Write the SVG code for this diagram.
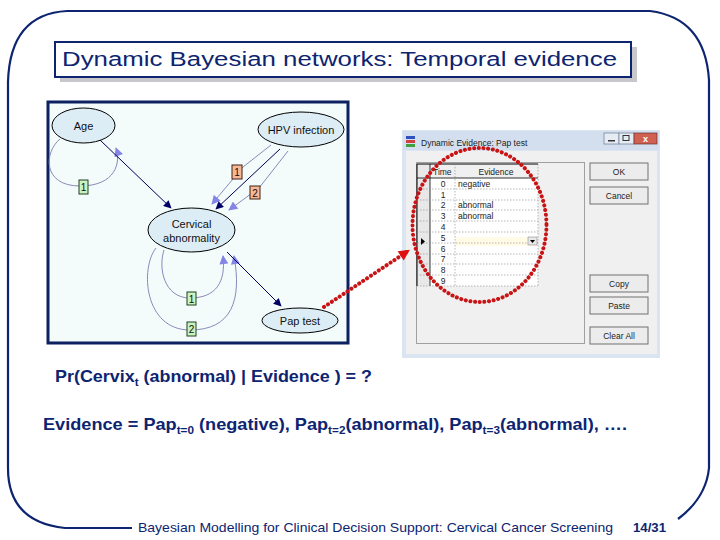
<svg xmlns="http://www.w3.org/2000/svg" width="720" height="540" viewBox="0 0 720 540">
<style>
.frame{fill:none;stroke:#0d2470;stroke-width:2.2}
.slide{font-family:"Liberation Sans",Arial,sans-serif;fill:#0d2470}
.node ellipse{fill:#ddedf5;stroke:#000;stroke-width:1}
.nlabel{font-family:"Liberation Sans",Arial,sans-serif;font-size:11px;fill:#111;text-anchor:middle}
.arc{fill:none;stroke:#000055;stroke-width:1}
.loop{fill:none;stroke:#8a8ab8;stroke-width:1}
.tg{fill:#c9f3c0;stroke:#204020;stroke-width:1}
.to{fill:#f7b898;stroke:#402010;stroke-width:1}
.tl{font-family:"Liberation Sans",Arial,sans-serif;font-size:10px;fill:#111;text-anchor:middle}
.dlg{font-family:"Liberation Sans",Arial,sans-serif;font-size:8.5px;fill:#222}
.btn{fill:#ececec;stroke:#707070;stroke-width:1}
.grid{stroke:#888;stroke-width:0.6;stroke-dasharray:1.5,1.5}
.reddot{fill:none;stroke:#c81414;stroke-width:4;stroke-linecap:round;stroke-dasharray:0.1,4.6}
</style>
<defs>
<marker id="ad" viewBox="0 0 10 10" refX="9" refY="5" markerWidth="10" markerHeight="8" markerUnits="userSpaceOnUse" orient="auto"><path d="M0,0 L10,5 L0,10 z" fill="#000066"/></marker>
<marker id="al" viewBox="0 0 10 10" refX="9" refY="5" markerWidth="10" markerHeight="9" markerUnits="userSpaceOnUse" orient="auto"><path d="M0,0 L10,5 L0,10 z" fill="#8484e6"/></marker>
<marker id="ar" viewBox="0 0 10 10" refX="8" refY="5" markerWidth="12" markerHeight="11" markerUnits="userSpaceOnUse" orient="auto"><path d="M0,0 L10,5 L0,10 z" fill="#dd1111"/></marker>
</defs>
<rect width="720" height="540" fill="#fff"/>
<!-- slide frame -->
<path class="frame" d="M132,528 L65,528 Q8,522 8,468 L8,82 Q10,14 67,11 L650,11 Q705,18 709,80 L709,468 Q706,498 678,519"/>
<!-- title -->
<g id="title">
<rect x="60" y="47" width="577" height="35" fill="#c8c8cc"/>
<rect x="55" y="42" width="576" height="35" fill="#fff" stroke="#0d2470" stroke-width="2"/>
<text class="slide" x="62" y="66" font-size="20" textLength="555" lengthAdjust="spacingAndGlyphs">Dynamic Bayesian networks: Temporal evidence</text>
</g>
<!-- network panel -->
<g id="panel">
<rect x="48" y="102" width="300" height="241" fill="#f3fbfb" stroke="#0d2060" stroke-width="3"/>
</g>
<g id="connectors">
<path class="loop" d="M60,139 C44,152 42,186 80,186 C116,186 121,162 116,148" marker-end="url(#al)"/>
<path class="loop" d="M271,145 L243,167 L212,204" marker-end="url(#al)"/>
<path class="loop" d="M288,151 L259,188 L229,210" marker-end="url(#al)"/>
<path class="loop" d="M164,250 C158,268 164,298 190,298 C216,298 226,282 223,256" marker-end="url(#al)"/>
<path class="loop" d="M156,248 C140,268 144,330 190,330 C232,330 242,300 234,256" marker-end="url(#al)"/>
<path class="arc" d="M100,140 L171,208" marker-end="url(#ad)"/>
<path class="arc" d="M280,149 L216,209" marker-end="url(#ad)"/>
<path class="arc" d="M227,252 L281,306" marker-end="url(#ad)"/>
</g>
<g id="lab1"><rect class="tg" x="79" y="180" width="9" height="14"/><text class="tl" x="83.5" y="191">1</text></g>
<g id="lab2"><rect class="to" x="232" y="165" width="10" height="14"/><text class="tl" x="237" y="176">1</text></g>
<g id="lab3"><rect class="to" x="250" y="186" width="10" height="13"/><text class="tl" x="255" y="196.5">2</text></g>
<g id="lab4"><rect class="tg" x="187" y="292" width="9" height="13"/><text class="tl" x="191.5" y="302.5">1</text></g>
<g id="lab5"><rect class="tg" x="187" y="322" width="9" height="14"/><text class="tl" x="191.5" y="333">2</text></g>
<g id="age" class="node"><ellipse cx="83.5" cy="125.5" rx="31.5" ry="17.5"/><text class="nlabel" x="83.5" y="129.5">Age</text></g>
<g id="hpv" class="node"><ellipse cx="301" cy="129.5" rx="43" ry="17.5"/><text class="nlabel" x="301" y="133.5">HPV infection</text></g>
<g id="cervical" class="node"><ellipse cx="191.5" cy="230" rx="43.5" ry="22"/><text class="nlabel" x="191.5" y="228">Cervical</text><text class="nlabel" x="191.5" y="242">abnormality</text></g>
<g id="pap" class="node"><ellipse cx="300" cy="320.5" rx="38" ry="12.5"/><text class="nlabel" x="300" y="324.5">Pap test</text></g>
<!-- dialog screenshot -->
<g id="dialog">
<rect x="402" y="130" width="258" height="228" fill="#dbe5f1"/>
<rect x="403" y="131" width="256" height="19" fill="#d3dfee"/>
<rect x="406" y="136" width="9" height="3" fill="#3050c0"/><rect x="406" y="140" width="9" height="3" fill="#d04040"/><rect x="406" y="144" width="9" height="3" fill="#40a040"/>
<text class="dlg" x="421" y="145.5" font-size="9">Dynamic Evidence: Pap test</text>
<rect x="604" y="133" width="15" height="11" fill="#e6ecf4" stroke="#6a7a90" stroke-width="0.7"/><rect x="608" y="140" width="7" height="1.5" fill="#333"/>
<rect x="619" y="133" width="15" height="11" fill="#e6ecf4" stroke="#6a7a90" stroke-width="0.7"/><rect x="623" y="135.5" width="6" height="5" fill="none" stroke="#333" stroke-width="1"/>
<rect x="634" y="133" width="23" height="11" fill="#d06050" stroke="#6a3030" stroke-width="0.7"/><text x="645.5" y="142" font-family="Liberation Sans,sans-serif" font-size="9" font-weight="bold" fill="#fff" text-anchor="middle">x</text>
<rect x="406" y="151" width="251" height="203" fill="#f0f0f0"/>
<rect x="416.5" y="162.5" width="168" height="181" fill="none" stroke="#a0a0a0" stroke-width="1"/>
<rect x="417" y="164" width="13" height="122" fill="#e8e8e8"/>
<rect x="430" y="164" width="108" height="122" fill="#fff"/>
<rect x="430" y="164" width="108" height="14" fill="#f0f0f0"/>
<rect x="455" y="237" width="82" height="9" fill="#fffbe6"/>
<line x1="417" y1="164" x2="538" y2="164" stroke="#000" stroke-width="1"/>
<line x1="417" y1="164" x2="417" y2="286" stroke="#000" stroke-width="1"/>
<line x1="430" y1="164" x2="430" y2="286" stroke="#000" stroke-width="0.8"/>
<line x1="455" y1="164" x2="455" y2="286" class="grid"/>
<line x1="538" y1="164" x2="538" y2="286" class="grid"/>
<line x1="417" y1="178" x2="538" y2="178" stroke="#000" stroke-width="0.8"/>
<g class="grid">
<line x1="417" y1="189" x2="538" y2="189"/><line x1="417" y1="200" x2="538" y2="200"/><line x1="417" y1="210" x2="538" y2="210"/><line x1="417" y1="221" x2="538" y2="221"/><line x1="417" y1="232" x2="538" y2="232"/><line x1="417" y1="243" x2="538" y2="243"/><line x1="417" y1="254" x2="538" y2="254"/><line x1="417" y1="264" x2="538" y2="264"/><line x1="417" y1="275" x2="538" y2="275"/><line x1="417" y1="286" x2="538" y2="286"/>
</g>
<text class="dlg" x="433" y="175">Time</text><text class="dlg" x="496" y="175" text-anchor="middle">Evidence</text>
<g class="dlg" text-anchor="middle">
<text x="443" y="187">0</text><text x="443" y="198">1</text><text x="443" y="208">2</text><text x="443" y="219">3</text><text x="443" y="230">4</text><text x="443" y="241">5</text><text x="443" y="252">6</text><text x="443" y="262">7</text><text x="443" y="273">8</text><text x="443" y="284">9</text>
</g>
<text class="dlg" x="458" y="187">negative</text>
<text class="dlg" x="458" y="208">abnormal</text>
<text class="dlg" x="458" y="219">abnormal</text>
<path d="M421,238 L425,241.5 L421,245 z" fill="#000"/>
<rect x="528" y="237" width="9" height="8" fill="#e8e8e8" stroke="#777" stroke-width="0.5"/><path d="M530,240 L535,240 L532.5,243 z" fill="#000"/>
<g class="dlg" text-anchor="middle">
<rect class="btn" x="590" y="163" width="58" height="17"/><text x="619" y="174.5">OK</text>
<rect class="btn" x="590" y="187" width="58" height="17"/><text x="619" y="198.5">Cancel</text>
<rect class="btn" x="590" y="275" width="58" height="17"/><text x="619" y="286.5">Copy</text>
<rect class="btn" x="590" y="297" width="58" height="17"/><text x="619" y="308.5">Paste</text>
<rect class="btn" x="590" y="327" width="58" height="17"/><text x="619" y="338.5">Clear All</text>
</g>
</g>
<!-- red dotted circle and arrow -->
<g id="highlight">
<ellipse class="reddot" cx="479.5" cy="225" rx="67" ry="77"/>
<path class="reddot" d="M324,307 L408,251" marker-end="url(#ar)"/>
</g>
<!-- texts -->
<text class="slide" x="55" y="382" font-size="17" font-weight="bold" textLength="317" lengthAdjust="spacingAndGlyphs">Pr(Cervix<tspan font-size="11" dy="4">t</tspan><tspan dy="-4"> (abnormal) | Evidence ) = ?</tspan></text>
<text class="slide" x="43" y="430" font-size="17" font-weight="bold" textLength="584" lengthAdjust="spacingAndGlyphs">Evidence = Pap<tspan font-size="11" dy="4">t=0</tspan><tspan dy="-4"> (negative), Pap</tspan><tspan font-size="11" dy="4">t=2</tspan><tspan dy="-4">(abnormal), Pap</tspan><tspan font-size="11" dy="4">t=3</tspan><tspan dy="-4">(abnormal), ….</tspan></text>
<text class="slide" x="138" y="532" font-size="13" textLength="475" lengthAdjust="spacingAndGlyphs">Bayesian Modelling for Clinical Decision Support: Cervical Cancer Screening</text>
<text class="slide" x="633" y="532" font-size="13" font-weight="bold" textLength="33" lengthAdjust="spacingAndGlyphs">14/31</text>
</svg>
